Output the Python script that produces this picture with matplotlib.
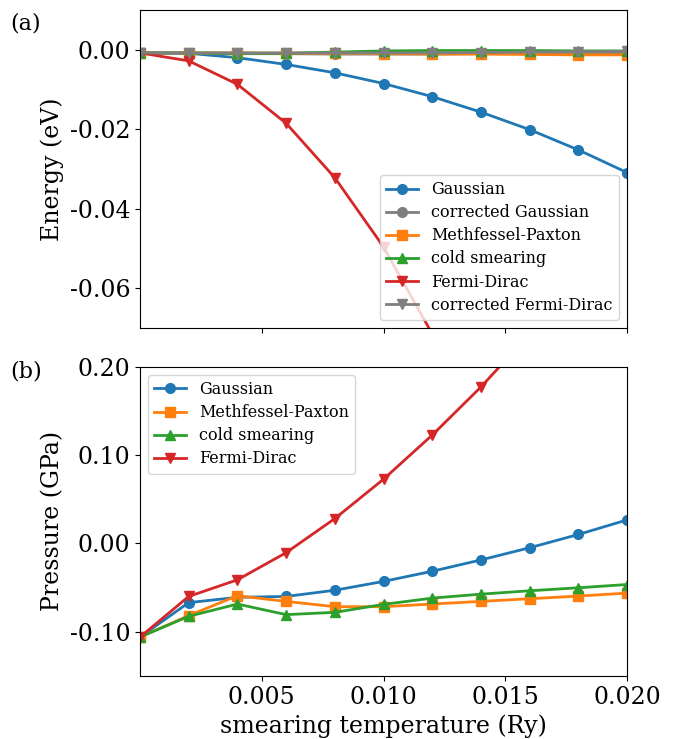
import matplotlib
matplotlib.use("Agg")
import matplotlib.pyplot as plt

plt.rcParams['font.family'] = ['DejaVu Serif']
plt.rcParams['axes.unicode_minus'] = False

T = [0.000, 0.002, 0.004, 0.006, 0.008, 0.010, 0.012, 0.014, 0.016, 0.018, 0.020]

# Energy (eV)
E_gauss = [-0.0008, -0.0009, -0.0020, -0.0037, -0.0058, -0.0085, -0.0118, -0.0157, -0.0201, -0.0252, -0.0309]
E_corr_gauss = [-0.0008, -0.0009, -0.0010, -0.0010, -0.0011, -0.0011, -0.0011, -0.0010, -0.0010, -0.0009, -0.0008]
E_mp = [-0.0008, -0.0008, -0.0008, -0.0009, -0.0009, -0.0010, -0.0011, -0.0011, -0.0012, -0.0013, -0.0013]
E_cold = [-0.0008, -0.0008, -0.0009, -0.0009, -0.0006, -0.0003, -0.0002, -0.0002, -0.0002, -0.0003, -0.0003]
E_fd = [-0.0008, -0.0028, -0.0087, -0.0185, -0.0322, -0.0496, -0.0715, -0.0980, -0.1290, -0.1650, -0.2060]
E_corr_fd = [-0.0008, -0.0008, -0.0008, -0.0008, -0.0008, -0.0008, -0.0008, -0.0007, -0.0006, -0.0005, -0.0004]

# Pressure (GPa)
P_gauss = [-0.106, -0.067, -0.061, -0.060, -0.053, -0.043, -0.0315, -0.0187, -0.0049, 0.0101, 0.0266]
P_mp = [-0.106, -0.0817, -0.0592, -0.0656, -0.0716, -0.0716, -0.0686, -0.0656, -0.0626, -0.0596, -0.0562]
P_cold = [-0.106, -0.0825, -0.0686, -0.0806, -0.078, -0.069, -0.0619, -0.0574, -0.0536, -0.0502, -0.0465]
P_fd = [-0.106, -0.060, -0.0412, -0.0105, 0.0281, 0.0727, 0.1226, 0.177, 0.237, 0.300, 0.370]

fig = plt.figure(figsize=(6.74, 7.39), dpi=100)
ax1 = fig.add_axes([0.2077, 0.5562, 0.7226, 0.4303])
ax2 = fig.add_axes([0.2077, 0.0853, 0.7226, 0.4185], sharex=ax1)

lw = 2
ms = 7
ax1.plot(T, E_gauss, '-o', color='tab:blue', lw=lw, ms=ms, label='Gaussian')
ax1.plot(T, E_corr_gauss, '-o', color='tab:gray', lw=lw, ms=ms, label='corrected Gaussian')
ax1.plot(T, E_mp, '-s', color='tab:orange', lw=lw, ms=ms, label='Methfessel-Paxton')
ax1.plot(T, E_cold, '-^', color='tab:green', lw=lw, ms=ms, label='cold smearing')
ax1.plot(T, E_fd, '-v', color='tab:red', lw=lw, ms=ms, label='Fermi-Dirac')
ax1.plot(T, E_corr_fd, '-v', color='tab:gray', lw=lw, ms=ms, label='corrected Fermi-Dirac')

ax2.plot(T, P_gauss, '-o', color='tab:blue', lw=lw, ms=ms, label='Gaussian')
ax2.plot(T, P_mp, '-s', color='tab:orange', lw=lw, ms=ms, label='Methfessel-Paxton')
ax2.plot(T, P_cold, '-^', color='tab:green', lw=lw, ms=ms, label='cold smearing')
ax2.plot(T, P_fd, '-v', color='tab:red', lw=lw, ms=ms, label='Fermi-Dirac')

ax1.set_xlim(0, 0.020)
ax1.set_ylim(-0.07, 0.01)
ax2.set_ylim(-0.15, 0.20)
ax1.set_xticks([0.005, 0.010, 0.015, 0.020])
ax1.set_yticks([0.00, -0.02, -0.04, -0.06])
ax2.set_yticks([0.20, 0.10, 0.00, -0.10])
ax1.yaxis.set_major_formatter(matplotlib.ticker.FormatStrFormatter('%.2f'))
ax2.yaxis.set_major_formatter(matplotlib.ticker.FormatStrFormatter('%.2f'))
ax2.xaxis.set_major_formatter(matplotlib.ticker.FormatStrFormatter('%.3f'))
plt.setp(ax1.get_xticklabels(), visible=False)

for ax in (ax1, ax2):
    ax.tick_params(labelsize=17)

ax1.set_ylabel('Energy (eV)', fontsize=17)
ax2.set_ylabel('Pressure (GPa)', fontsize=17)
ax2.set_xlabel('smearing temperature (Ry)', fontsize=17)

ax1.legend(loc='lower right', fontsize=11.5, labelspacing=0.38)
ax2.legend(loc='upper left', fontsize=11.5, labelspacing=0.38)

fig.text(0.015, 0.968, '(a)', fontsize=16, va='center', ha='left')
fig.text(0.015, 0.497, '(b)', fontsize=16, va='center', ha='left')

fig.savefig('out.png', dpi=100)
